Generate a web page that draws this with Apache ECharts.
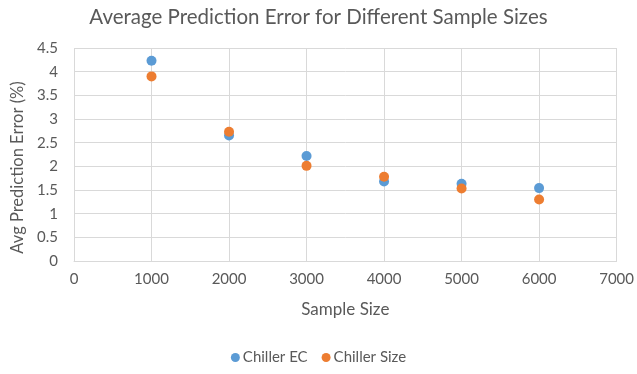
<!DOCTYPE html>
<html>
<head>
<meta charset="utf-8">
<script src="https://cdn.jsdelivr.net/npm/echarts@6/dist/echarts.min.js"></script>
<style>
  html, body { margin: 0; padding: 0; background: #fff; }
  #chart { width: 637px; height: 374px; }
</style>
</head>
<body>
<div id="chart"></div>
<script>
// Sample sizes and average prediction error (%) per model
const sampleSizes = [1000, 2000, 3000, 4000, 5000, 6000];
const chillerEC = [4.23, 2.65, 2.22, 1.68, 1.63, 1.54];
const chillerSize = [3.90, 2.73, 2.01, 1.78, 1.53, 1.30];
const seriesNames = ['Chiller EC', 'Chiller Size'];

const font = 'Lato, "Open Sans", sans-serif';
const textColor = '#595959';
const gridColor = '#d9d9d9';

const pairs = (xs, ys) => xs.map((x, i) => [x, ys[i]]);

const chart = echarts.init(document.getElementById('chart'));
chart.setOption({
  animation: false,
  title: {
    text: 'Average Prediction Error for Different Sample Sizes',
    left: 'center',
    top: 2,
    textStyle: { fontFamily: font, fontSize: 20.5, fontWeight: 'normal', color: textColor }
  },
  legend: {
    bottom: 4,
    left: 'center',
    itemWidth: 9,
    itemHeight: 9,
    itemGap: 14,
    icon: 'circle',
    textStyle: { fontFamily: font, fontSize: 15, color: textColor, padding: [0, 0, 0, -2] },
    data: seriesNames
  },
  grid: { left: 74, right: 16, top: 48, bottom: 113 },
  xAxis: {
    type: 'value',
    min: 0,
    max: 7000,
    interval: 1000,
    name: 'Sample Size',
    nameLocation: 'middle',
    nameGap: 40,
    nameTextStyle: { fontFamily: font, fontSize: 17, color: textColor },
    axisLine: { lineStyle: { color: gridColor } },
    axisTick: { show: false },
    axisLabel: { fontFamily: font, fontSize: 15, color: textColor, margin: 11, formatter: v => String(v) },
    splitLine: { lineStyle: { color: gridColor } }
  },
  yAxis: {
    type: 'value',
    min: 0,
    max: 4.5,
    interval: 0.5,
    name: 'Avg Prediction Error (%)',
    nameLocation: 'middle',
    nameGap: 40,
    nameTextStyle: { fontFamily: font, fontSize: 16.5, color: textColor, padding: [0, 26, 0, 0] },
    axisLine: { show: false },
    axisTick: { show: false },
    axisLabel: { fontFamily: font, fontSize: 15, color: textColor, margin: 16 },
    splitLine: { lineStyle: { color: gridColor } }
  },
  series: [
    {
      name: seriesNames[0],
      type: 'scatter',
      symbolSize: 10,
      itemStyle: { color: '#5B9BD5', opacity: 1 },
      data: pairs(sampleSizes, chillerEC)
    },
    {
      name: seriesNames[1],
      type: 'scatter',
      symbolSize: 10,
      itemStyle: { color: '#ED7D31', opacity: 1 },
      data: pairs(sampleSizes, chillerSize)
    }
  ]
});
</script>
</body>
</html>
